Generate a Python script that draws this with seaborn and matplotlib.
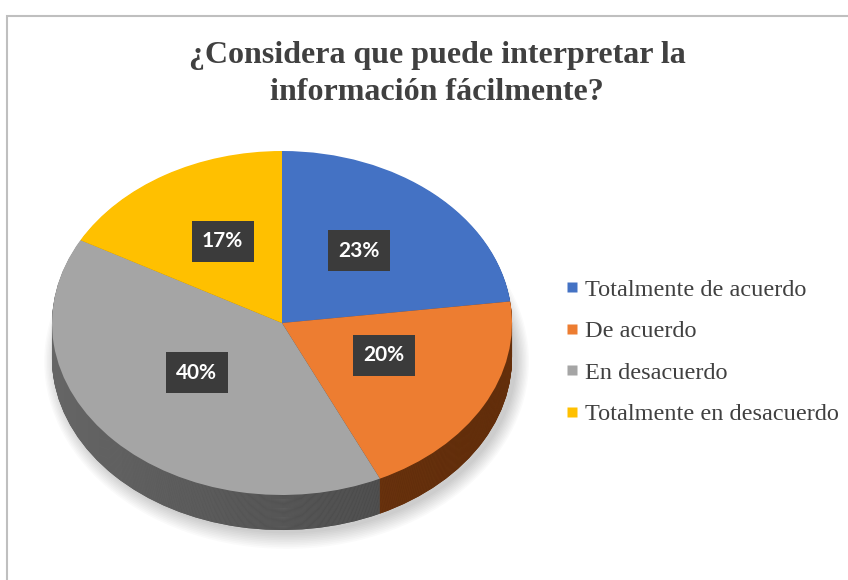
import matplotlib
matplotlib.use('Agg')
import matplotlib.pyplot as plt
import seaborn as sns
import numpy as np
from matplotlib.lines import Line2D
from matplotlib.patches import Rectangle, Ellipse
from matplotlib.colors import LinearSegmentedColormap

title = '¿Considera que puede interpretar la\ninformación fácilmente?'
categories = ['Totalmente de acuerdo', 'De acuerdo', 'En desacuerdo', 'Totalmente en desacuerdo']
shares = [23, 20, 40, 17]
top_colors = ['#4472C4', '#ED7D31', '#A5A5A5', '#FFC000']
# side shading (left -> right) for each slice
side_shades = [('#2f5597', '#1f3864'), ('#7a3c12', '#5a2a0a'),
               ('#666666', '#3e3e3e'), ('#bf9000', '#7f6000')]

sns.set_theme(style='white')
plt.rcParams['font.family'] = ['Liberation Serif', 'DejaVu Sans']

W, H = 848, 580
fig = plt.figure(figsize=(W / 100, H / 100), dpi=100)
fig.patch.set_facecolor('white')

# pie geometry in pixels (ellipse of the top face)
cx, cy, rx, ry = 282, 323, 230, 172
depth = 35 / ry
x0, x1 = -1.1, 1.1
y0, y1 = -1.0 - depth - 0.15, 1.05
ax = fig.add_axes([(cx + x0 * rx) / W, (H - (cy - y0 * ry)) / H,
                   (x1 - x0) * rx / W, (y1 - y0) * ry / H])

# soft shadow under the pie
for k in range(10):
    ax.add_patch(Ellipse((0.02, -depth - 0.02), 2.0 + 0.012 * k, 2.0 + 0.02 * k,
                         facecolor='black', edgecolor='none', alpha=0.018, zorder=0))

grad = np.linspace(0, 1, 256)[None, :]
side_cmaps = [LinearSegmentedColormap.from_list(f's{i}', s) for i, s in enumerate(side_shades)]

# side of the "3d" pie: stacked copies pushed down, shaded left to right
for d in np.linspace(depth, 0, 40)[:-1]:
    side, _ = ax.pie(shares, colors=[s[0] for s in side_shades], startangle=90,
                     counterclock=False, center=(0, -d),
                     wedgeprops=dict(linewidth=0), frame=True)
    for w, cm in zip(side, side_cmaps):
        im = ax.imshow(grad, cmap=cm, extent=(-1, 1, -1 - d, 1 - d), aspect='auto', zorder=1)
        im.set_clip_path(w)
        w.set_zorder(1)

wedges, texts, autotexts = ax.pie(
    shares, colors=top_colors, startangle=90, counterclock=False,
    autopct=lambda p: f'{p:.0f}%', pctdistance=0.47,
    wedgeprops=dict(linewidth=0, zorder=2), frame=True,
    textprops=dict(color='white', fontsize=15, fontweight='bold', family='Lato', zorder=3))
for t in autotexts:
    t.set_bbox(dict(boxstyle='square,pad=0.5', facecolor='#3b3b3b', edgecolor='none'))
    # tilted view: the centre of the disc sits a little above the ellipse centre
    x, y = t.get_position()
    t.set_position((x * 1.08, y + 0.05 + 0.05 * y))

ax.set_aspect('auto')
ax.set_xlim(x0, x1)
ax.set_ylim(y0, y1)
ax.axis('off')

fig.text(437 / W, 1 - 74 / H, title, ha='center', va='center', fontsize=23,
         fontweight='bold', color='#404040', linespacing=1.38, family='Liberation Serif')

handles = [Line2D([], [], marker='s', linestyle='none', markersize=7.5,
                  markerfacecolor=c, markeredgecolor='none') for c in top_colors]
leg = fig.legend(handles, categories, loc='center left', bbox_to_anchor=(544 / W, 1 - 352 / H),
                 frameon=False, fontsize=17.5, handlelength=0.5, handletextpad=0.3,
                 labelspacing=0.8)
for t in leg.get_texts():
    t.set_color('#404040')

fig.add_artist(Rectangle((6.5 / W, -0.05), 1.0, 1 - 15.5 / H + 0.05, transform=fig.transFigure,
                         fill=False, edgecolor='#bfbfbf', linewidth=1.5))

fig.savefig('out.png', dpi=100)
